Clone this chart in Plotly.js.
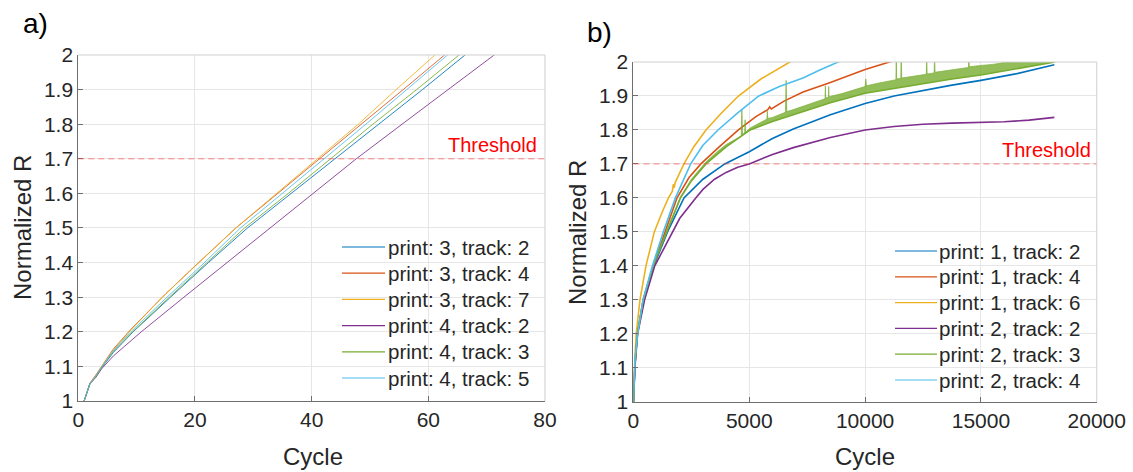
<!DOCTYPE html>
<html>
<head>
<meta charset="utf-8">
<script src="https://cdn.plot.ly/plotly-3.0.1.min.js"></script>
<style>html,body{margin:0;padding:0;background:#fff;}#chart{width:1133px;height:472px;}</style>
</head>
<body>
<div id="chart"></div>
<script>
// ---------- Panel a) : cycles 0-80 ----------
const a_names = ["print: 3, track: 2","print: 3, track: 4","print: 3, track: 7","print: 4, track: 2","print: 4, track: 3","print: 4, track: 5"];
const a_p3t2_x = [1,2,3,4,6,9.4,15.8,22.3,29,36.5,44.2,51.6,59,66.3,67];
const a_p3t2_y = [1.0,1.05,1.07,1.096,1.14,1.2,1.3,1.4,1.5,1.6,1.7,1.8,1.9,2.0,2.01];
const a_p3t4_x = [1,2,3,4,6,9,15,20,27,34.2,41.3,48.5,55.7,62.8,63.5];
const a_p3t4_y = [1.0,1.052,1.075,1.1,1.15,1.207,1.31,1.39,1.5,1.6,1.7,1.8,1.9,2.0,2.01];
const a_p3t7_x = [1,2,3,4,6,9,15,20,27,34,41,48,54.5,61.1,62];
const a_p3t7_y = [1.0,1.05,1.072,1.1,1.147,1.205,1.31,1.39,1.5,1.6,1.7,1.8,1.9,2.0,2.013];
const a_p4t2_x = [1,2,3,4,6,8,10.8,18.1,25.5,32.9,40.2,47.65,55.5,63.4,71.3,72];
const a_p4t2_y = [1.0,1.05,1.068,1.093,1.13,1.16,1.2,1.3,1.4,1.5,1.6,1.7,1.8,1.9,2.0,2.009];
const a_p4t3_x = [1,2,3,4,6,9.3,15.6,22,28.5,36,43.2,50.5,58,65.3,66];
const a_p4t3_y = [1.0,1.05,1.07,1.097,1.143,1.2,1.3,1.4,1.5,1.6,1.7,1.8,1.9,2.0,2.01];
const a_p4t5_x = [1,2,3,4,6,9,15.2,21,27.8,35,42.2,49.3,56.3,63.3,64];
const a_p4t5_y = [1.0,1.05,1.072,1.098,1.145,1.2,1.3,1.39,1.5,1.6,1.7,1.8,1.9,2.0,2.01];

// ---------- Panel b) : cycles 0-20000 ----------
const b_names = ["print: 1, track: 2","print: 1, track: 4","print: 1, track: 6","print: 2, track: 2","print: 2, track: 3","print: 2, track: 4"];
const b_p1t2_x = [0,20,60,160,450,880,1470,2180,3000,3940,5000,6000,6900,8500,10000,11250,12500,13750,15000,16500,18170];
const b_p1t2_y = [1.0,1.05,1.1,1.2,1.3,1.4,1.5,1.6,1.655,1.7,1.736,1.775,1.803,1.845,1.878,1.9,1.917,1.932,1.946,1.965,1.992];
const b_p1t4_x = [0,20,60,170,420,850,1370,1880,2400,2910,3700,4530,5300,5800,5880,5950,6500,6900,7320,8500,10000,11050,11500];
const b_p1t4_y = [1.0,1.06,1.11,1.2,1.3,1.4,1.5,1.6,1.66,1.7,1.75,1.8,1.84,1.86,1.868,1.862,1.885,1.898,1.912,1.94,1.978,2.0,2.01];
const b_p1t6_x = [0,20,60,120,280,540,900,1250,1510,1680,1720,1760,1800,2180,2600,3130,3800,4530,5500,6750,7000];
const b_p1t6_y = [1.0,1.07,1.13,1.2,1.3,1.4,1.5,1.56,1.6,1.62,1.64,1.63,1.645,1.7,1.75,1.8,1.85,1.9,1.95,2.0,2.01];
const b_p2t2_x = [0,20,60,180,480,920,1300,1700,2000,2690,3000,3500,4000,4500,5000,6000,6904,8500,10000,11250,12500,13750,15000,16000,17080,18170];
const b_p2t2_y = [1.0,1.05,1.1,1.2,1.3,1.4,1.45,1.5,1.54,1.6,1.625,1.655,1.675,1.69,1.7,1.728,1.748,1.778,1.8,1.81,1.817,1.82,1.821,1.824,1.829,1.837];
// print 2, track 3 is a noisy band: lower edge and upper edge (with spikes)
const b_p2t3_lo_x = [0,20,60,170,420,850,1440,2030,2500,3130,4000,5040,6000,6904,8500,10000,11250,12500,13750,15000,16500,17500,18200];
const b_p2t3_lo_y = [1.0,1.06,1.11,1.2,1.3,1.4,1.5,1.6,1.65,1.7,1.75,1.8,1.825,1.845,1.88,1.908,1.922,1.937,1.95,1.962,1.98,1.99,2.0];
const b_p2t3_hi_x = [0,20,60,170,420,850,1440,2030,2500,3130,3600,4000,4650,4680,4710,4800,4820,4840,5040,5500,5760,5780,5800,6000,6560,6590,6620,6904,7500,8270,8285,8300,8420,8430,8440,9000,10000,10030,10060,10500,11000,11330,11345,11360,11540,11560,11580,12000,12640,12660,12680,12980,13000,13020,13500,13735,14000,14460,14480,14500,15000,15500,16500,17500,18200];
const b_p2t3_hi_y = [1.0,1.062,1.112,1.202,1.302,1.402,1.503,1.604,1.655,1.706,1.735,1.757,1.782,1.862,1.788,1.79,1.83,1.793,1.806,1.822,1.832,1.855,1.834,1.837,1.852,1.946,1.854,1.86,1.874,1.892,1.93,1.894,1.897,1.928,1.898,1.907,1.928,1.95,1.93,1.937,1.944,1.948,2.05,1.95,1.952,2.05,1.953,1.957,1.964,2.02,1.965,1.968,2.02,1.97,1.974,1.977,1.98,1.984,2.01,1.986,1.99,1.993,2.004,2.01,2.01];
const b_p2t4_x = [0,20,60,180,410,820,1290,1810,2470,3000,3650,4500,5410,6300,7320,8000,8850,9000];
const b_p2t4_y = [1.0,1.06,1.12,1.2,1.3,1.4,1.5,1.6,1.7,1.755,1.8,1.85,1.9,1.928,1.953,1.975,2.0,2.005];

const THRESHOLD = 1.7;
const colors = ["#0072BD","#D95319","#EDB120","#7E2F8E","#77AC30","#4DBEEE"];

const FONT = "Liberation Sans, Arial, Helvetica, sans-serif";
const TXT = "#262626";
const W = 1133, H = 472;

const aX = [a_p3t2_x,a_p3t4_x,a_p3t7_x,a_p4t2_x,a_p4t3_x,a_p4t5_x];
const aY = [a_p3t2_y,a_p3t4_y,a_p3t7_y,a_p4t2_y,a_p4t3_y,a_p4t5_y];
const traces = [];
for (let i = 0; i < 6; i++) {
  traces.push({x: aX[i], y: aY[i], type: "scatter", mode: "lines", name: a_names[i],
    line: {color: colors[i], width: 1}, opacity: 0.85, xaxis: "x", yaxis: "y", showlegend: false});
}
function bLine(x, y, i) {
  return {x: x, y: y, type: "scatter", mode: "lines", name: b_names[i],
    line: {color: colors[i], width: 1.6}, xaxis: "x2", yaxis: "y2", showlegend: false};
}
traces.push(bLine(b_p1t2_x, b_p1t2_y, 0));
traces.push(bLine(b_p1t4_x, b_p1t4_y, 1));
traces.push(bLine(b_p1t6_x, b_p1t6_y, 2));
traces.push(bLine(b_p2t2_x, b_p2t2_y, 3));
traces.push(bLine(b_p2t3_lo_x, b_p2t3_lo_y, 4));
const hi = bLine(b_p2t3_hi_x, b_p2t3_hi_y, 4);
hi.fill = "tonexty"; hi.fillcolor = "rgba(119,172,48,0.8)"; hi.line.width = 0.8; hi.line.color = "rgba(119,172,48,0.8)";
traces.push(hi);
traces.push(bLine(b_p2t4_x, b_p2t4_y, 5));

const axBase = {
  showgrid: true, gridcolor: "#e6e6e6", gridwidth: 1, zeroline: false,
  showline: true, linecolor: "#6e6e6e", linewidth: 1,
  ticks: "inside", ticklen: 5, tickcolor: "#6e6e6e",
  tickfont: {family: FONT, size: 21, color: TXT}, fixedrange: true
};

const shapes = [
  {type: "line", xref: "x domain", yref: "y", x0: 0, x1: 1, y0: THRESHOLD, y1: THRESHOLD,
    line: {color: "rgba(255,60,60,0.6)", width: 1, dash: "6px,4px"}},
  {type: "line", xref: "x2 domain", yref: "y2", x0: 0, x1: 1, y0: THRESHOLD, y1: THRESHOLD,
    line: {color: "rgba(255,60,60,0.6)", width: 1, dash: "6px,4px"}},
  {type: "line", xref: "x domain", yref: "y domain", x0: 0, x1: 1, y0: 1, y1: 1, line: {color: "#cfcfcf", width: 1}},
  {type: "line", xref: "x domain", yref: "y domain", x0: 1, x1: 1, y0: 0, y1: 1, line: {color: "#cfcfcf", width: 1}},
  {type: "line", xref: "x2 domain", yref: "y2 domain", x0: 0, x1: 1, y0: 1, y1: 1, line: {color: "#cfcfcf", width: 1}},
  {type: "line", xref: "x2 domain", yref: "y2 domain", x0: 1, x1: 1, y0: 0, y1: 1, line: {color: "#cfcfcf", width: 1}}
];
const annotations = [
  {text: "a)", x: 35, y: 24, size: 28, color: "#000"},
  {text: "b)", x: 599, y: 32, size: 28, color: "#000"},
  {text: "Cycle", x: 313, y: 456, size: 24, color: TXT},
  {text: "Cycle", x: 865, y: 456, size: 24, color: TXT},
  {text: "Normalized R", x: 22, y: 228, size: 24, color: TXT, angle: -90},
  {text: "Normalized R", x: 577, y: 232, size: 24, color: TXT, angle: -90}
].map(a => ({text: a.text, xref: "paper", yref: "paper", x: a.x / W, y: 1 - a.y / H,
  xanchor: "center", yanchor: "middle", textangle: a.angle || 0, showarrow: false,
  font: {family: FONT, size: a.size, color: a.color}}));
annotations.push(
  {text: "Threshold", xref: "x domain", yref: "y", x: 0.987, y: THRESHOLD, xanchor: "right", yanchor: "bottom", yshift: 1, showarrow: false, font: {family: FONT, size: 20, color: "#ff0000"}},
  {text: "Threshold", xref: "x2 domain", yref: "y2", x: 0.991, y: THRESHOLD, xanchor: "right", yanchor: "bottom", yshift: 1, showarrow: false, font: {family: FONT, size: 20, color: "#ff0000"}}
);
// Custom legends (line sample + real text), positioned in pixels
function addLegend(names, lineX0, lineX1, textX, rowY0, rowStep) {
  names.forEach((n, i) => {
    const yy = rowY0 + rowStep * i;
    shapes.push({type: "line", xref: "paper", yref: "paper", x0: lineX0 / W, x1: lineX1 / W,
      y0: 1 - yy / H, y1: 1 - yy / H, line: {color: colors[i], width: 1.2}});
    annotations.push({text: n, xref: "paper", yref: "paper", x: textX / W, y: 1 - yy / H,
      xanchor: "left", yanchor: "middle", showarrow: false,
      font: {family: FONT, size: 20.5, color: TXT}});
  });
}
addLegend(a_names, 342, 385, 386, 247, 26.2);
addLegend(b_names, 895, 937, 937, 251, 25.8);

const layout = {
  width: W, height: H,
  margin: {l: 0, r: 0, t: 0, b: 0},
  paper_bgcolor: "#ffffff", plot_bgcolor: "#ffffff",
  font: {family: FONT, color: TXT},
  showlegend: false,
  xaxis: Object.assign({}, axBase, {domain: [0.0691, 0.4810], anchor: "y", range: [0, 80], dtick: 20, tick0: 0}),
  yaxis: Object.assign({}, axBase, {domain: [0.1504, 0.8835], anchor: "x", range: [1, 2], dtick: 0.1, tick0: 1}),
  xaxis2: Object.assign({}, axBase, {domain: [0.5591, 0.9680], anchor: "y2", range: [0, 20000], dtick: 5000, tick0: 0, tickformat: "d"}),
  yaxis2: Object.assign({}, axBase, {domain: [0.1489, 0.8686], anchor: "x2", range: [1, 2], dtick: 0.1, tick0: 1}),
  shapes: shapes,
  annotations: annotations
};
Plotly.newPlot("chart", traces, layout, {displayModeBar: false, staticPlot: true});
</script>
</body>
</html>
